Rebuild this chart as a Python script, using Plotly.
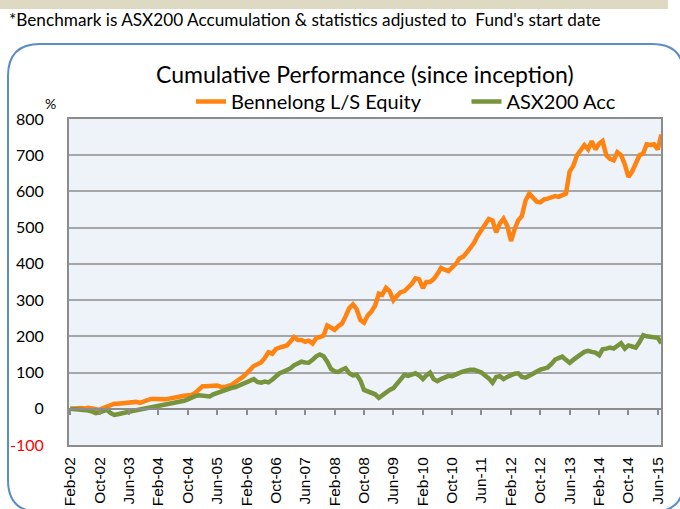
import plotly.graph_objects as go
import pandas as pd

# ---- data (cumulative % since inception, monthly from Feb-02) ----
start_month = "2002-02-01"
bennelong = [0, 1, 2, 2, 1, 3, 1, 0, -3, 2, 6, 12, 14, 14, 15, 17, 18, 20, 19, 16,
             20, 26, 27, 27, 26, 27, 26, 28, 31, 33, 34, 36, 37, 38, 44, 55, 62, 62, 63, 62,
             64, 61, 60, 63, 66, 74, 80, 88, 98, 109, 118, 123, 128, 140, 156, 152, 165, 169, 172, 175,
             186, 198, 190, 190, 185, 188, 180, 195, 198, 202, 230, 225, 218, 228, 235, 255, 278, 288, 275, 245,
             238, 258, 268, 285, 318, 315, 334, 325, 300, 312, 322, 325, 335, 345, 360, 357, 333, 350, 350, 358,
             372, 389, 384, 380, 390, 400, 415, 420, 432, 445, 458, 478, 495, 512, 524, 520, 487, 512, 525, 505,
             463, 495, 520, 532, 575, 594, 585, 572, 570, 578, 580, 583, 587, 585, 590, 594, 655, 670, 700, 715,
             728, 716, 739, 716, 732, 739, 700, 690, 686, 708, 700, 675, 640, 655, 678, 700, 705, 730, 728, 730,
             716, 757]
asx200 = [0, -1, -1, -3, -2, -5, -8, -12, -10, -8, -3, -12, -17, -15, -12, -10, -8, -6, -4, -2,
          0, 2, 3, 5, 6, 7, 9, 11, 13, 15, 17, 22, 26, 31, 35, 37, 36, 32, 34, 40,
          44, 46, 50, 53, 58, 60, 64, 68, 72, 76, 82, 74, 72, 75, 73, 80, 90, 98, 102, 106,
          112, 120, 124, 130, 128, 127, 135, 145, 150, 145, 130, 110, 103, 102, 108, 112, 98, 92, 94, 78,
          52, 48, 45, 40, 30, 38, 47, 52, 57, 70, 85, 94, 91, 94, 98, 92, 82, 92, 100, 82,
          76, 82, 86, 91, 90, 96, 99, 103, 106, 108, 108, 105, 100, 92, 84, 72, 88, 90, 82, 88,
          93, 97, 98, 88, 86, 92, 97, 102, 108, 111, 114, 124, 136, 140, 144, 135, 127, 135, 144, 150,
          157, 160, 157, 155, 148, 164, 166, 169, 166, 172, 181, 166, 175, 172, 169, 184, 203, 200, 199, 197,
          196, 181]
tick_labels = ["Feb-02", "Oct-02", "Jun-03", "Feb-04", "Oct-04", "Jun-05", "Feb-06", "Oct-06",
               "Jun-07", "Feb-08", "Oct-08", "Jun-09", "Feb-10", "Oct-10", "Jun-11", "Feb-12",
               "Oct-12", "Jun-13", "Feb-14", "Oct-14", "Jun-15"]
y_ticks = [-100, 0, 100, 200, 300, 400, 500, 600, 700, 800]

dates = pd.date_range(start_month, periods=len(bennelong), freq="MS")
tick_dates = pd.date_range(start_month, periods=len(tick_labels), freq="8MS")

FONT = "Lato, Liberation Sans, sans-serif"
AXFONT = "Liberation Sans, Arial, sans-serif"
ORANGE = "#FF8311"
GREEN = "#77933C"
NB = "&nbsp;"

fig = go.Figure()
fig.add_trace(go.Scatter(x=dates, y=bennelong, mode="lines",
                         name="Bennelong L/S Equity" + NB * 8,
                         line=dict(color=ORANGE, width=4.5)))
fig.add_trace(go.Scatter(x=dates, y=asx200, mode="lines", name="ASX200 Acc",
                         line=dict(color=GREEN, width=4.5)))
# invisible trace to carry the zero-line tick axis
fig.add_trace(go.Scatter(x=[dates[0]], y=[0], xaxis="x2", mode="markers",
                         marker=dict(opacity=0), showlegend=False, hoverinfo="skip"))

W, H = 680, 509
ml, mr, mt, mb = 69, 19, 119, 64
plot_w = W - ml - mr
plot_h = H - mt - mb
zero_pos = (0 - (-100)) / 900.0  # fraction within y domain

xrange = ["2002-01-21", "2015-06-28"]

ytext = [f'<span style="color:#FF0000">{v}</span>' if v < 0 else str(v) for v in y_ticks]


def px(x):
    return (x - ml) / plot_w


def py(y):
    return (H - mb - y) / plot_h


fig.update_layout(
    width=W, height=H,
    margin=dict(l=ml, r=mr, t=mt, b=mb, autoexpand=False),
    paper_bgcolor="white",
    plot_bgcolor="#EEF3FA",
    font=dict(family=FONT, color="black"),
    showlegend=True,
    legend=dict(orientation="h", x=px(191), y=py(121), xanchor="left", yanchor="bottom",
                font=dict(size=20, family=FONT), bgcolor="rgba(0,0,0,0)"),
    xaxis=dict(range=xrange, tickvals=tick_dates, ticktext=tick_labels, tickangle=-90,
               showgrid=False, ticks="outside", ticklen=4, tickcolor="rgba(0,0,0,0)",
               showline=True, linecolor="#8C8C8C", linewidth=2,
               mirror=True, tickfont=dict(size=15.5, family=AXFONT), zeroline=False),
    xaxis2=dict(range=xrange, overlaying="x", anchor="free", position=zero_pos,
                tickvals=tick_dates, showticklabels=False, ticks="outside", ticklen=5,
                tickwidth=1.5, tickcolor="#8C8C8C", showline=True, linecolor="#8C8C8C",
                linewidth=2, showgrid=False, zeroline=False),
    yaxis=dict(range=[-100, 800], tickvals=y_ticks, ticktext=ytext, showgrid=True,
               gridcolor="#A6A6A6", gridwidth=1.5, showline=True, linecolor="#8C8C8C",
               linewidth=2, mirror=True, ticks="outside", ticklen=20,
               tickcolor="rgba(0,0,0,0)", zeroline=False,
               tickfont=dict(size=16, family=FONT)),
)

# top beige band
fig.add_shape(type="rect", xref="paper", yref="paper", layer="below",
              x0=px(0), x1=px(668), y0=py(0), y1=py(9),
              line=dict(width=0), fillcolor="#DDD9C3")

# rounded blue frame
x0, x1, y0, y1, r = 8, 684, 44, 512, 32
path = (f"M {px(x0 + r)},{py(y0)} L {px(x1 - r)},{py(y0)} "
        f"Q {px(x1)},{py(y0)} {px(x1)},{py(y0 + r)} "
        f"L {px(x1)},{py(y1 - r)} Q {px(x1)},{py(y1)} {px(x1 - r)},{py(y1)} "
        f"L {px(x0 + r)},{py(y1)} Q {px(x0)},{py(y1)} {px(x0)},{py(y1 - r)} "
        f"L {px(x0)},{py(y0 + r)} Q {px(x0)},{py(y0)} {px(x0 + r)},{py(y0)} Z")
fig.add_shape(type="path", path=path, xref="paper", yref="paper", layer="below",
              line=dict(color="#5B8DC9", width=2))

# footnote, title and % unit
fig.add_annotation(text="*Benchmark is ASX200 Accumulation &amp; statistics adjusted to  Fund's start date",
                   xref="paper", yref="paper", x=px(7), y=py(20), xanchor="left", yanchor="middle",
                   showarrow=False, font=dict(size=17.2, family=FONT, color="black"))
fig.add_annotation(text="Cumulative Performance (since inception)",
                   xref="paper", yref="paper", x=px(365), y=py(74), xanchor="center", yanchor="middle",
                   showarrow=False, font=dict(size=23, family=FONT, color="black"))
fig.add_annotation(text="%", xref="paper", yref="paper", x=px(50), y=py(103),
                   xanchor="center", yanchor="middle", showarrow=False,
                   font=dict(size=14, family=FONT, color="black"))

fig.write_html("out.html", post_script="document.body.style.margin='0';",
               config={"displayModeBar": False})
